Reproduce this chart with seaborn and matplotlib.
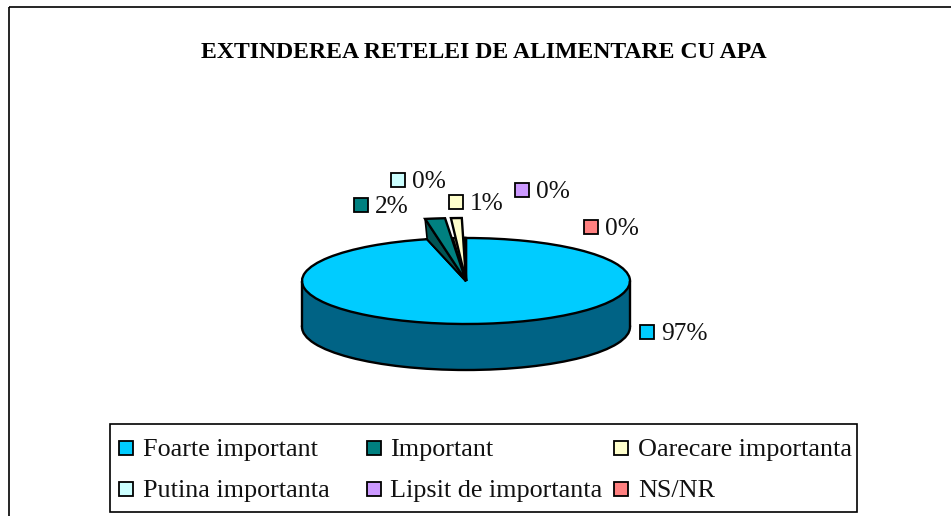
import matplotlib
matplotlib.use("Agg")
import matplotlib.pyplot as plt
import numpy as np
import seaborn as sns
from matplotlib.patches import Rectangle

categories = ["Foarte important", "Important", "Oarecare importanta",
              "Putina importanta", "Lipsit de importanta", "NS/NR"]
values = [96.2, 2.5, 1.0, 0.1, 0.1, 0.1]
pct_labels = ["97%", "2%", "1%", "0%", "0%", "0%"]
title = "EXTINDEREA RETELEI DE ALIMENTARE CU APA"

sns.set_theme(style="white")
plt.rcParams["font.family"] = ["Liberation Serif", "DejaVu Serif"]

colors = sns.color_palette(["#00CCFF", "#008080", "#FFFFCC", "#CCFFFF", "#CC99FF", "#FF8080"])
side_colors = sns.color_palette(["#00CCFF", "#005555", "#8A8A6A", "#CCFFFF", "#CC99FF", "#FF8080"])
wall_color = "#006385"

# pie centre and size in pixels of the 951x516 picture
cx, cy, rx, ry, depth = 466, 281, 164, 43, 46
lift = 63 / 43
edge = dict(edgecolor="black", linewidth=1.7)

fig = plt.figure(figsize=(9.51, 5.16), dpi=100)
ax = fig.add_axes([0, 0, 1, 1])

# wall of the disc
ax.pie(values[:1], colors=[wall_color], center=(0, -depth / ry), wedgeprops=edge)
ax.add_patch(Rectangle((-1, -depth / ry), 2, depth / ry, facecolor=wall_color, edgecolor="none"))
ax.vlines([-1, 1], -depth / ry, 0, color="black", linewidth=1.7)

# top of the disc, small slices get their darker side colour here
ax.pie(values, colors=side_colors, startangle=90, counterclock=False, wedgeprops=edge)

# small slices stand above the disc
raised, _ = ax.pie(values, colors=colors, startangle=90, counterclock=False,
                   radius=lift, wedgeprops=edge)
angles = {1: (95.0, 99.8), 2: (91.0, 93.6)}
for i, w in enumerate(raised):
    if i in angles:
        w.set_theta1(angles[i][0])
        w.set_theta2(angles[i][1])
    else:
        w.set_visible(False)

# side of the green slice, between its raised corner and the disc
a, b = np.radians(9.8), np.radians(13.7)
ax.fill([-lift * np.sin(a), -np.sin(b), 0], [lift * np.cos(a), np.cos(b), 0],
        facecolor=side_colors[1], edgecolor="black", linewidth=1.2, zorder=1.5)
for w in raised:
    w.set_zorder(3)

ax.set_aspect("auto")
ax.set_xlim(-cx / rx, (951 - cx) / rx)
ax.set_ylim((cy - 516) / ry, cy / ry)
ax.axis("off")

# overlay in pixel coordinates for frame, title, labels and legend
ov = fig.add_axes([0, 0, 1, 1], facecolor="none")
ov.set_xlim(0, 951)
ov.set_ylim(516, 0)
ov.axis("off")

ov.add_patch(Rectangle((9, 7), 1000, 600, fill=False, edgecolor="black", linewidth=1.2))
ov.text(484, 52, title, ha="center", va="center", fontsize=17.1, fontweight="bold", color="black")

label_pos = [(647, 332), (361, 205), (456, 202), (398, 180), (522, 190), (591, 227)]
for (x, y), txt, c in zip(label_pos, pct_labels, colors):
    ov.add_patch(Rectangle((x - 7, y - 7), 14, 14, facecolor=c, edgecolor="black", linewidth=1.3))
    ov.text(x + 14, y + 2, txt, ha="left", va="center", fontsize=18.3, color="#111111")

# legend box with even columns
ov.add_patch(Rectangle((110, 424), 747, 88, facecolor="white", edgecolor="black", linewidth=1.2))
for i, (name, c) in enumerate(zip(categories, colors)):
    x = 119 + (i % 3) * 247.5
    y = 448 + (i // 3) * 41
    ov.add_patch(Rectangle((x, y - 7), 14, 14, facecolor=c, edgecolor="black", linewidth=1.3))
    ov.text(x + 24, y + 2, name, ha="left", va="center", fontsize=18.8, color="#111111")

fig.savefig("out.png", dpi=100)
